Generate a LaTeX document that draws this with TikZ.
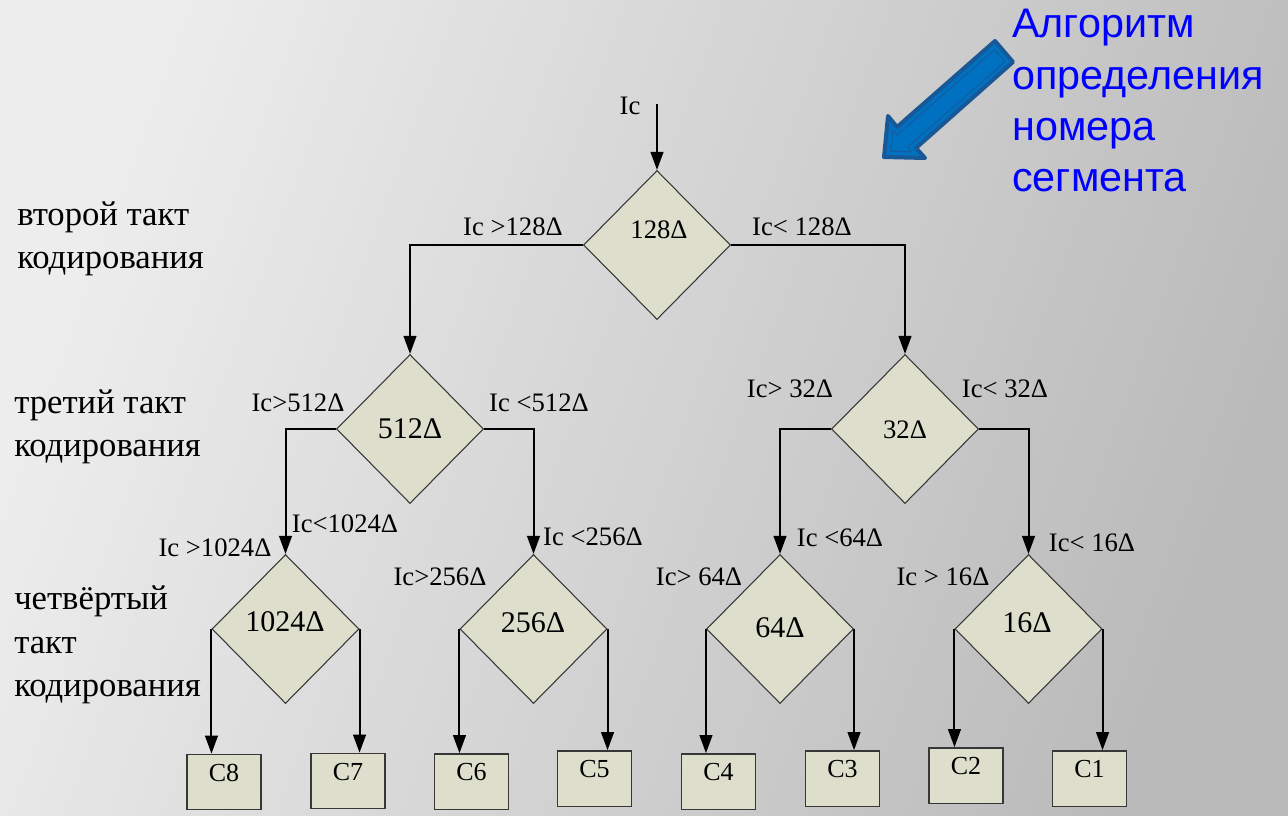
\documentclass[tikz,border=0pt]{standalone}
\usepackage{fontspec}
\setmainfont{Liberation Serif}
\newfontfamily\arialfont{Liberation Sans}
\newfontfamily\cyrserif{Liberation Serif}
\usetikzlibrary{shapes.geometric,arrows.meta}
\definecolor{bgL}{RGB}{237,237,237}
\definecolor{bgR}{RGB}{186,186,186}
\definecolor{boxfill}{RGB}{221,223,204}
\definecolor{boxline}{RGB}{55,55,55}
\definecolor{arrfill}{RGB}{0,112,192}
\definecolor{arrline}{RGB}{24,88,150}
\definecolor{txtblue}{RGB}{0,0,255}
\begin{document}
\begin{tikzpicture}[x=0.75pt,y=-0.75pt,
  dia/.style={diamond, draw=boxline, line width=0.8pt, fill=boxfill, minimum width=110.25pt, minimum height=111.75pt, inner sep=0pt},
  dtxt/.style={font=\fontsize{20}{24}\selectfont, inner sep=0pt},
  dtxtb/.style={font=\fontsize{22.5}{26}\selectfont, inner sep=0pt},
  cbox/.style={draw=boxline, line width=1pt, fill=boxfill, inner sep=0pt, minimum width=55.5pt, minimum height=41.5pt, font=\fontsize{19.5}{22}\selectfont, text height=13pt, text depth=14pt},
  cond/.style={font=\fontsize{20}{24}\selectfont, inner sep=0pt},
  tact/.style={font=\cyrserif\fontsize{26}{32.5}\selectfont, align=left, anchor=west, inner sep=0pt},
  arr/.style={line width=1.5pt, -{Triangle[length=13.5pt,width=9.5pt]}},
]
\useasboundingbox (0,0) rectangle (1288,815);
\shade[left color=bgL, right color=bgR, shading angle=70] (0,0) rectangle (1288,815);

% blue arrow
\draw[fill=arrfill, draw=arrline, line width=3pt, line join=round] (884,157) -- (925,158) -- (916,148) -- (1013,62) -- (995,41) -- (897,127) -- (888,116) -- cycle;
\draw[draw=arrline!80!arrfill, line width=0.8pt, line join=round] (890.6,151.2) -- (911.4,151.9) -- (907.3,147.2) -- (1005.1,61.7) -- (994.5,49.7) -- (896.8,135.2) -- (892.7,130.5) -- cycle;
\node[anchor=north west, inner sep=0pt, align=left, text=txtblue, font=\arialfont\fontsize{31}{38.5}\selectfont] (title) at (1012,9) {Алгоритм\\определения\\номера\\сегмента};

% left captions
\node[tact] (tact2) at (17,239) {второй такт\\кодирования};
\node[tact] (tact3) at (14,427) {третий такт\\кодирования};
\node[tact] (tact4) at (14,645) {четвёртый\\такт\\кодирования};

% diamonds
\node[dia] (d128) at (657,245) {};
\node[dia] (d512) at (410,429) {};
\node[dia] (d32) at (905,429) {};
\node[dia] (d1024) at (285.5,629) {};
\node[dia] (d256) at (533.5,629) {};
\node[dia] (d64) at (780,629) {};
\node[dia] (d16) at (1028.5,629) {};

\node[dtxt] (t128) at (659,230) {128Δ};
\node[dtxtb] (t512) at (410,429) {512Δ};
\node[dtxt] (t32) at (905,430) {32Δ};
\node[dtxtb] (t1024) at (285,622) {1024Δ};
\node[dtxtb] (t256) at (533,623) {256Δ};
\node[dtxtb] (t64) at (780,628) {64Δ};
\node[dtxtb] (t16) at (1027,623) {16Δ};

% result boxes
\node[cbox] (c8) at (224,782) {C8};
\node[cbox] (c7) at (348,781) {C7};
\node[cbox] (c6) at (471.5,781.5) {C6};
\node[cbox] (c5) at (594.5,778.5) {C5};
\node[cbox] (c4) at (718.5,781.5) {C4};
\node[cbox] (c3) at (842.5,778.5) {C3};
\node[cbox] (c2) at (966,775.5) {C2};
\node[cbox] (c1) at (1089.5,778.5) {C1};

% input
\coordinate (icstart) at (657,104);
\node[cond] (iclbl) at (630,106) {Ic};
\draw[arr] (icstart) -- (d128.north);

% connectors
\draw[arr] (d128.west) -| (d512.north);
\draw[arr] (d128.east) -| (d32.north);
\draw[arr] (d512.west) -| (d1024.north);
\draw[arr] (d512.east) -| (d256.north);
\draw[arr] (d32.west) -| (d64.north);
\draw[arr] (d32.east) -| (d16.north);
\draw[arr] (d1024.west) -- (d1024.west |- c8.north);
\draw[arr] (d1024.east) -- (d1024.east |- c7.north);
\draw[arr] (d256.west) -- (d256.west |- c6.north);
\draw[arr] (d256.east) -- (d256.east |- c5.north);
\draw[arr] (d64.west) -- (d64.west |- c4.north);
\draw[arr] (d64.east) -- (d64.east |- c3.north);
\draw[arr] (d16.west) -- (d16.west |- c2.north);
\draw[arr] (d16.east) -- (d16.east |- c1.north);

% condition labels
\node[cond] (l1) at (513,227) {Ic >128Δ};
\node[cond] (l2) at (802,227) {Ic< 128Δ};
\node[cond] (l3) at (298,403) {Ic>512Δ};
\node[cond] (l4) at (539,403) {Ic <512Δ};
\node[cond] (l5) at (790,389) {Ic> 32Δ};
\node[cond] (l6) at (1005,389) {Ic< 32Δ};
\node[cond] (l7) at (345,524) {Ic<1024Δ};
\node[cond] (l8) at (215,548) {Ic >1024Δ};
\node[cond] (l9) at (593,537) {Ic <256Δ};
\node[cond] (l10) at (440,577) {Ic>256Δ};
\node[cond] (l11) at (840,538) {Ic <64Δ};
\node[cond] (l12) at (699,577) {Ic> 64Δ};
\node[cond] (l13) at (1092,543) {Ic< 16Δ};
\node[cond] (l14) at (943,577) {Ic > 16Δ};
\end{tikzpicture}
\end{document}
